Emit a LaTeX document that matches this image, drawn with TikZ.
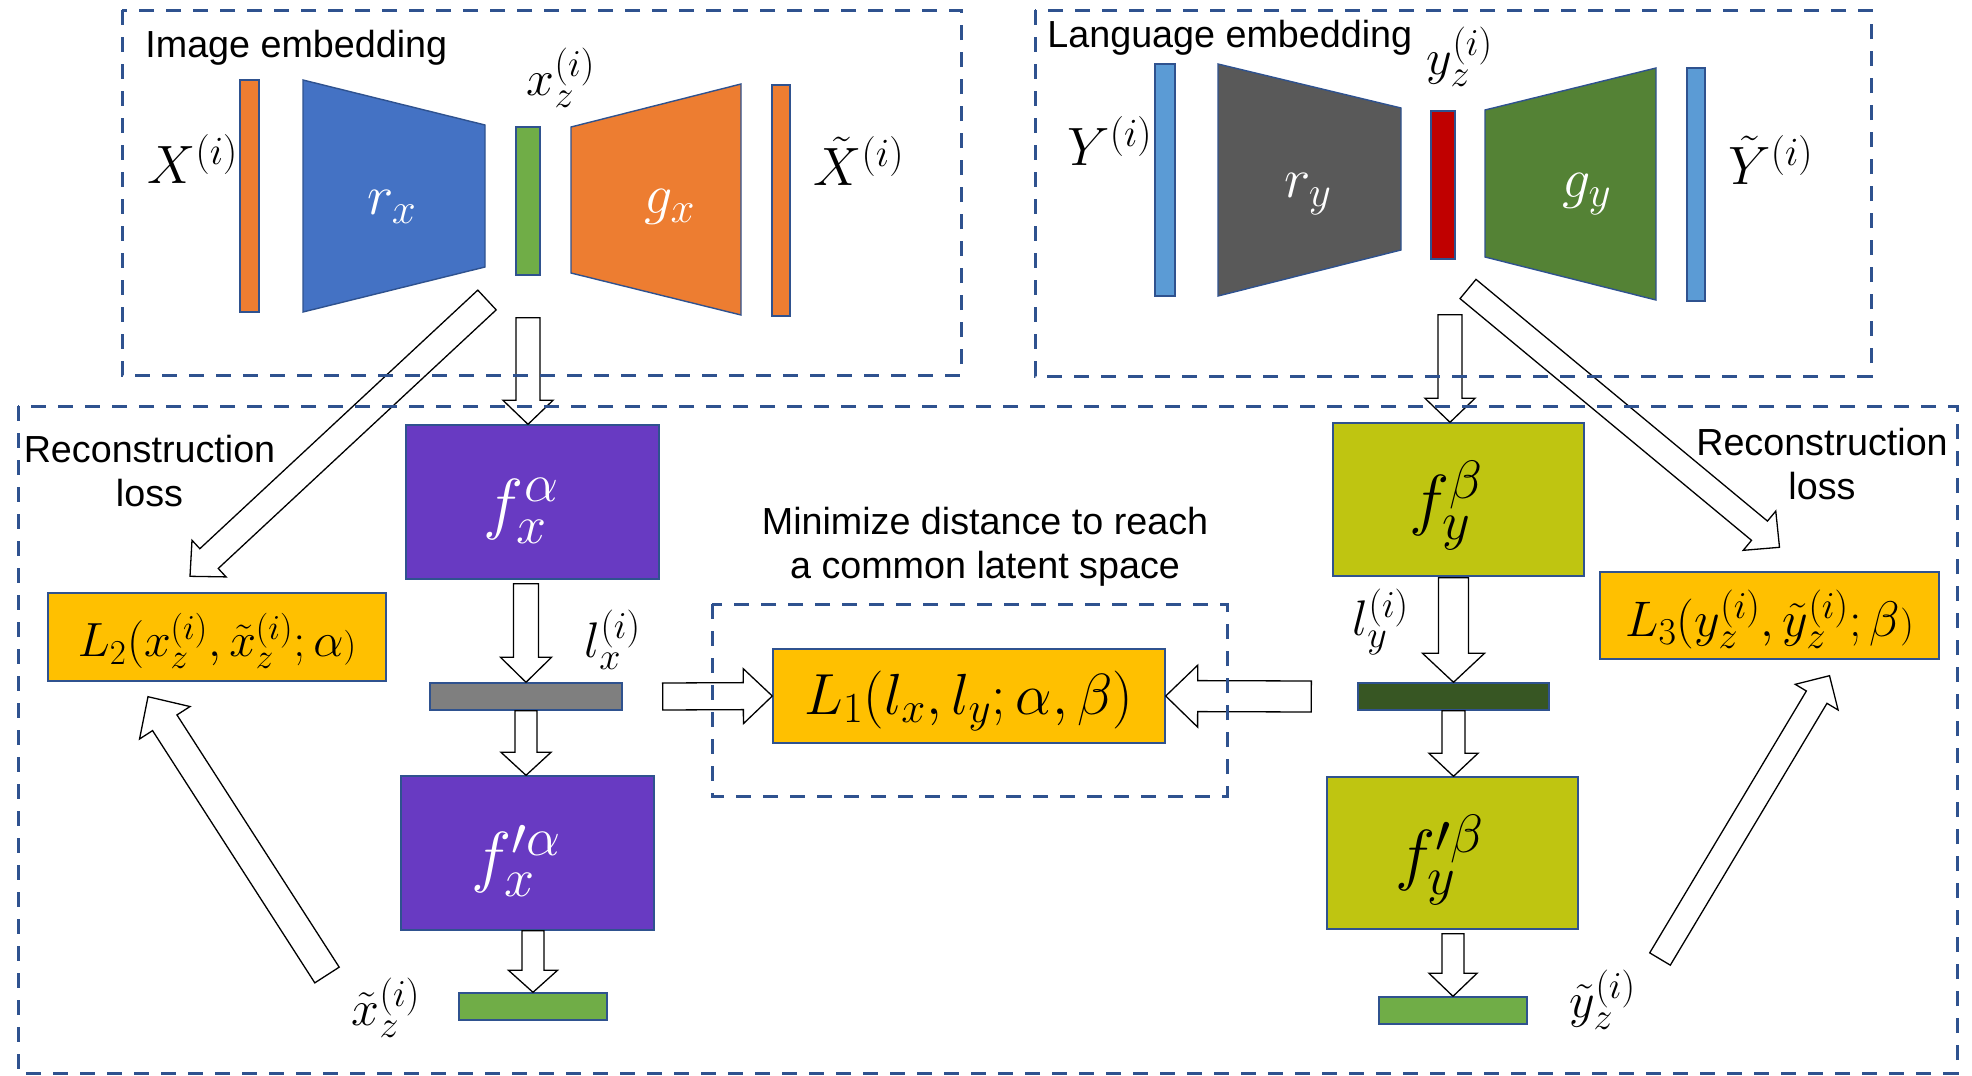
\RequirePackage{fix-cm}
\documentclass[tikz,border=0pt]{standalone}
\usepackage{fontspec}
\setmainfont{Liberation Sans}
\usetikzlibrary{calc,fit}
\DeclareMathSizes{24}{24}{17.5}{13}
\DeclareMathSizes{25}{25}{19}{14}
\DeclareMathSizes{27}{27}{20}{15}
\DeclareMathSizes{28}{28}{21.5}{16}
\DeclareMathSizes{29}{29}{21.5}{16}
\DeclareMathSizes{34}{34}{27}{19}
\definecolor{dashc}{RGB}{47,82,143}
\definecolor{outl}{RGB}{47,82,143}
\definecolor{orng}{RGB}{237,125,49}
\definecolor{blu}{RGB}{68,114,196}
\definecolor{lblu}{RGB}{91,155,213}
\definecolor{grn}{RGB}{112,173,71}
\definecolor{dgry}{RGB}{89,89,89}
\definecolor{redb}{RGB}{192,0,0}
\definecolor{mgrn}{RGB}{84,130,53}
\definecolor{purp}{RGB}{104,58,194}
\definecolor{olive}{RGB}{191,197,17}
\definecolor{gryb}{RGB}{127,127,127}
\definecolor{dgrn}{RGB}{55,86,35}
\definecolor{gold}{RGB}{255,192,0}
\newcommand{\blockarr}[5]{%
  \coordinate (bancA) at ($(#2)!#5!(#1)$);
  \draw[blockarrow] ($(#1)!#3!90:(#2)$) -- ($(bancA)!#3!90:(#2)$) -- ($(bancA)!#4!90:(#2)$) -- (#2) -- ($(bancA)!#4!-90:(#2)$) -- ($(bancA)!#3!-90:(#2)$) -- ($(#1)!#3!-90:(#2)$) -- cycle;}
\begin{document}
\begin{tikzpicture}[x=0.5pt,y=-0.5pt,
  blockarrow/.style={draw=black, fill=white, line width=0.65pt, line join=miter},
  dashframe/.style={draw=dashc, line width=1.5pt, dash pattern=on 7.5pt off 6pt},
  boxs/.style={inner sep=0pt, draw=outl, line width=0.7pt},
  trap/.style={draw=outl, line width=0.7pt},
  sans/.style={inner sep=0pt, font=\fontsize{18.85}{22}\selectfont},
  sanstwo/.style={inner sep=0pt, align=center, font=\fontsize{18.85}{22}\selectfont},
  lab/.style={inner sep=0pt, font=\fontsize{25}{30}\selectfont},
  biglab/.style={inner sep=0pt, font=\fontsize{27}{30}\selectfont},
  trlab/.style={inner sep=0pt, text=white, font=\fontsize{28}{32}\selectfont},
  flab/.style={inner sep=0pt, font=\fontsize{34}{38}\selectfont}]
\useasboundingbox (0,0) rectangle (1972,1076);

% ---------- top-left: image embedding ----------
\node[sans, anchor=base west] (imgemb) at (145,57) {Image embedding};
\node[fit={(240,80)(259,312)}, boxs, fill=orng] (xin) {};
\draw[trap, fill=blu] (303,80) -- (485,125) -- (485,267) -- (303,312) -- cycle;
\node[trlab] (rx) at (392,207) {$r_x$};
\node[fit={(516,127)(540,275)}, boxs, fill=grn] (xzb) {};
\draw[trap, fill=orng] (571,127) -- (741,84) -- (741,315) -- (571,273) -- cycle;
\node[trlab] (gx) at (670,207) {$g_x$};
\node[fit={(772,85)(790,316)}, boxs, fill=orng] (xout) {};
\node[biglab] (Xlab) at (193,159) {$X^{(i)}$};
\node[lab] (xzlab) at (561,78) {$x_z^{(i)}$};
\node[biglab] (Xtlab) at (859,161) {$\tilde{X}^{(i)}$};

% ---------- top-right: language embedding ----------
\node[sans, anchor=base west] (langemb) at (1047,47) {Language embedding};
\node[fit={(1155,64)(1175,296)}, boxs, fill=lblu] (yin) {};
\draw[trap, fill=dgry] (1218,64) -- (1401,108) -- (1401,250) -- (1218,296) -- cycle;
\node[trlab] (ry) at (1308,194) {$r_y$};
\node[fit={(1431,111)(1455,259)}, boxs, fill=redb] (yzb) {};
\draw[trap, fill=mgrn] (1485,110) -- (1656,68) -- (1656,300) -- (1485,257) -- cycle;
\node[trlab] (gy) at (1587,194) {$g_y$};
\node[fit={(1687,68)(1705,301)}, boxs, fill=lblu] (yout) {};
\node[biglab] (Ylab) at (1110,141) {$Y^{(i)}$};
\node[lab] (yzlab) at (1460,57) {$y_z^{(i)}$};
\node[biglab] (Ytlab) at (1771,160) {$\tilde{Y}^{(i)}$};

% ---------- bottom-left column ----------
\node[fit={(406,425)(659,579)}, boxs, fill=purp] (fx) {};
\node[flab, text=white] (fxt) at ($(fx.center)+(-11,9)$) {$f_x^{\alpha}$};
\node[fit={(430,683)(622,710)}, boxs, fill=gryb] (lx) {};
\node[fit={(401,776)(654,930)}, boxs, fill=purp] (fxp) {};
\node[flab, text=white] (fxpt) at ($(fxp.center)+(-11,8)$) {$f_x^{\prime\alpha}$};
\node[fit={(459,993)(607,1020)}, boxs, fill=grn] (xt) {};
\node[lab] (lxlab) at (613,640) {$l_x^{(i)}$};
\node[lab] (xtlab) at (386,1008) {$\tilde{x}_z^{(i)}$};
\node[fit={(48,593)(386,681)}, boxs, fill=gold] (L2) {};
\node[inner sep=0pt, font=\fontsize{24}{28}\selectfont] (L2t) at ($(L2.center)+(0,4)$) {$L_2(x_z^{(i)},\tilde{x}_z^{(i)};\alpha{\scriptstyle)}$};
\node[sanstwo, anchor=north] (rec1) at (149.5,435) {Reconstruction\\loss};

% ---------- middle ----------
\node[fit={(773,649)(1165,743)}, boxs, fill=gold] (L1) {};
\node[inner sep=0pt, font=\fontsize{29}{32}\selectfont] (L1t) at ($(L1.center)+(0,5)$) {$L_1(l_x,l_y;\alpha,\beta)$};
\node[sanstwo, anchor=north] (mind) at (985,507) {Minimize distance to reach\\a common latent space};

% ---------- bottom-right column ----------
\node[fit={(1333,423)(1584,576)}, boxs, fill=olive] (fy) {};
\node[flab] (fyt) at ($(fy.center)+(-12,6)$) {$f_y^{\beta}$};
\node[fit={(1358,683)(1549,710)}, boxs, fill=dgrn] (ly) {};
\node[fit={(1327,777)(1578,929)}, boxs, fill=olive] (fyp) {};
\node[flab] (fypt) at ($(fyp.center)+(-13,7)$) {$f_y^{\prime\beta}$};
\node[fit={(1379,997)(1527,1024)}, boxs, fill=grn] (yt) {};
\node[lab] (lylab) at (1381,622) {$l_y^{(i)}$};
\node[lab] (ytlab) at (1603,1000) {$\tilde{y}_z^{(i)}$};
\node[fit={(1600,572)(1939,659)}, boxs, fill=gold] (L3) {};
\node[inner sep=0pt, font=\fontsize{25}{28}\selectfont] (L3t) at ($(L3.center)+(0,4)$) {$L_3(y_z^{(i)},\tilde{y}_z^{(i)};\beta{\scriptstyle)}$};
\node[sanstwo, anchor=north] (rec2) at (1822,428) {Reconstruction\\loss};

% ---------- arrow end points ----------
\coordinate (a1s) at ($(xzb.south)+(0,42)$);
\coordinate (a1e) at (a1s |- fx.north);
\coordinate (a2s) at ($(lx.north |- fx.south)+(0,4)$);
\coordinate (a3e) at (lx.south |- fxp.north);
\coordinate (a4s) at ($(xt.north |- fxp.south)$);
\coordinate (a5s) at ($(lx.east)+(40,0)$);
\coordinate (a6s) at ($(ly.west)+(-46,0)$);
\coordinate (a7s) at (487,300);
\coordinate (a7e) at ($(L2.north)+(-27,-16)$);
\coordinate (a8s) at (327,975);
\coordinate (a8e) at ($(L2.south)+(-69,15)$);
\coordinate (a9s) at (1468,289);
\coordinate (a9e) at ($(L3.north)+(10,-24)$);
\coordinate (a10s) at (1660,959);
\coordinate (a10e) at ($(L3.south)+(60,16)$);
\coordinate (b1s) at ($(yzb.south)+(7,55)$);
\coordinate (b1e) at (b1s |- fy.north);
\coordinate (b2s) at ($(ly.north |- fy.south)+(0,1)$);
\coordinate (b3e) at (ly.south |- fyp.north);
\coordinate (b4s) at ($(yt.north |- fyp.south)+(0,4)$);

% ---------- block arrows ----------
\blockarr{a1s}{a1e}{6pt}{12.5pt}{12pt}
\blockarr{a2s}{lx.north}{6.25pt}{12.75pt}{12.5pt}
\blockarr{lx.south}{a3e}{5.5pt}{12.5pt}{11.5pt}
\blockarr{a4s}{xt.north}{5.5pt}{12.25pt}{11pt}
\blockarr{a5s}{L1.west}{6.75pt}{13.75pt}{14.5pt}
\blockarr{a6s}{L1.east}{7.75pt}{15.5pt}{16pt}
\blockarr{a7s}{a7e}{6.75pt}{12.5pt}{13pt}
\blockarr{a8s}{a8e}{7.25pt}{15pt}{15.5pt}
\blockarr{a9s}{a9e}{6.25pt}{12.75pt}{13pt}
\blockarr{a10s}{a10e}{6pt}{12.5pt}{12.5pt}
\blockarr{b1s}{b1e}{6pt}{12.5pt}{12pt}
\blockarr{b2s}{ly.north}{7.5pt}{15.5pt}{14.5pt}
\blockarr{ly.south}{b3e}{5.75pt}{12.25pt}{11.5pt}
\blockarr{b4s}{yt.north}{5.5pt}{12pt}{11.5pt}

% ---------- dashed frames ----------
\draw[dashframe] (122,10) rectangle (961,375);
\draw[dashframe] (1035,10) rectangle (1871,376);
\draw[dashframe] (18,406) rectangle (1957,1073);
\draw[dashframe] (712,604) rectangle (1227,796);
\end{tikzpicture}
\end{document}
